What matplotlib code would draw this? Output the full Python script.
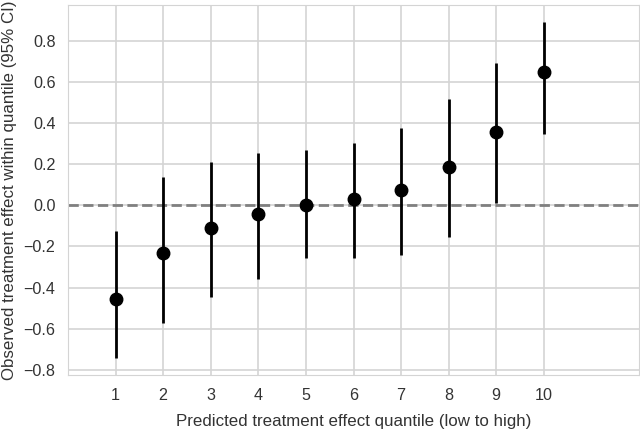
import matplotlib
matplotlib.use('Agg')
import matplotlib.pyplot as plt
import seaborn as sns
import numpy as np

# quantile estimates
quantiles = [1, 2, 3, 4, 5, 6, 7, 8, 9, 10]
effect = [-0.456, -0.231, -0.112, -0.040, 0.003, 0.029, 0.073, 0.186, 0.356, 0.646]
ci_low = [-0.743, -0.573, -0.447, -0.356, -0.254, -0.254, -0.241, -0.152, 0.010, 0.345]
ci_high = [-0.126, 0.140, 0.213, 0.254, 0.270, 0.304, 0.377, 0.515, 0.693, 0.892]

sns.set_style('whitegrid')
plt.rcParams['font.family'] = ['Liberation Sans', 'DejaVu Sans']

fig = plt.figure(figsize=(6.4, 4.29), dpi=100)
ax = fig.add_axes([68/640, 1-375/429, 571/640, 370/429])

eff = np.array(effect)
yerr = [eff - np.array(ci_low), np.array(ci_high) - eff]
ax.errorbar(quantiles, effect, yerr=yerr, fmt='o', color='black',
            ms=9, elinewidth=2, capsize=0, zorder=3)
ax.axhline(0, color='gray', linestyle='--', linewidth=2, zorder=2)

ax.set_xlim(0, 12)
ax.set_xticks(quantiles)
ax.set_yticks([-0.8, -0.6, -0.4, -0.2, 0.0, 0.2, 0.4, 0.6, 0.8])
ax.grid(color='#d4d4d4', linewidth=1.2)
for s in ax.spines.values():
    s.set_color('#d4d4d4')
ax.tick_params(labelsize=11.6, colors='#333333', length=0, pad=9)
ax.set_xlabel('Predicted treatment effect quantile (low to high)', fontsize=12.2,
              color='#333333', labelpad=8)
ax.set_ylabel('Observed treatment effect within quantile (95% CI)', fontsize=12.2,
              color='#333333', labelpad=5)

fig.savefig('out.png', dpi=100)
